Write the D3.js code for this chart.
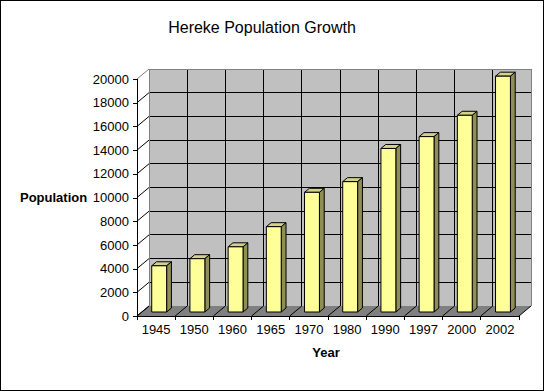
<!DOCTYPE html>
<html>
<head>
<meta charset="utf-8">
<script src="https://cdn.jsdelivr.net/npm/d3@7"></script>
<style>
  body { margin: 0; background: #fff; }
  svg { display: block; font-family: Arial, "Liberation Sans", sans-serif; }
</style>
</head>
<body>
<svg id="chart" width="546" height="392"></svg>
<script>
// Hereke population by census year
const years = ['1945', '1950', '1960', '1965', '1970', '1980', '1990', '1997', '2000', '2002']
const population = [3900, 4500, 5500, 7200, 10100, 11000, 13800, 14800, 16600, 19900]
const yTicks = [0, 2000, 4000, 6000, 8000, 10000, 12000, 14000, 16000, 18000, 20000]

const svg = d3.select('#chart')

// front plane of the 3d box
const x = d3.scaleBand().domain(years).range([137, 519])
const y = d3.scaleLinear().domain([0, 20000]).range([316, 79])

// depth of the box in pixels, bars sit between z0 and z1
const depthX = 12
const depthY = 10
const z0 = 0.4
const z1 = 0.8
const pt = (px, py, z) => [px + depthX * z, py - depthY * z]
const poly = pts => pts.map(p => p.join(',')).join(' ')

const x0 = x.range()[0]
const x1 = x.range()[1]
const bw = x.bandwidth()

// outer border
svg.append('rect')
  .attr('x', 0.5).attr('y', 0.5)
  .attr('width', 543).attr('height', 390)
  .attr('fill', '#fff').attr('stroke', '#000')

// back wall
svg.append('polygon')
  .attr('points', poly([pt(x0, y(20000), 1), pt(x1, y(20000), 1), pt(x1, y(0), 1), pt(x0, y(0), 1)]))
  .attr('fill', '#c0c0c0')

// floor
svg.append('polygon')
  .attr('points', poly([pt(x0, y(0), 0), pt(x0, y(0), 1), pt(x1, y(0), 1), pt(x1, y(0), 0)]))
  .attr('fill', '#808080')

const grid = svg.append('g').attr('stroke', '#000').attr('shape-rendering', 'crispEdges')

// horizontal gridlines on back wall + diagonals on left wall
yTicks.forEach(t => {
  const a = pt(x0, y(t), 1)
  const b = pt(x1, y(t), 1)
  if (t > 0 && t < 20000) {
    grid.append('line').attr('x1', a[0]).attr('y1', a[1]).attr('x2', b[0]).attr('y2', b[1])
  }
  svg.append('line')
    .attr('x1', x0).attr('y1', y(t)).attr('x2', a[0]).attr('y2', a[1])
    .attr('stroke', t === 20000 ? '#808080' : '#000')
})

// vertical gridlines on back wall + diagonals on floor
years.forEach((d, i) => {
  const xv = x(d)
  if (i > 0) {
    const a = pt(xv, y(0), 1)
    const b = pt(xv, y(20000), 1)
    grid.append('line').attr('x1', a[0]).attr('y1', a[1]).attr('x2', b[0]).attr('y2', b[1])
  }
  const f = pt(xv, y(0), 1)
  svg.append('line')
    .attr('x1', xv).attr('y1', y(0)).attr('x2', f[0]).attr('y2', f[1])
    .attr('stroke', '#000')
})
{
  const f = pt(x1, y(0), 1)
  svg.append('line').attr('x1', x1).attr('y1', y(0)).attr('x2', f[0]).attr('y2', f[1]).attr('stroke', '#000')
}

// wall edges in gray
const edges = svg.append('g').attr('stroke', '#808080').attr('fill', 'none').attr('shape-rendering', 'crispEdges')
edges.append('polyline')
  .attr('points', poly([pt(x0, y(0), 1), pt(x0, y(20000), 1), pt(x1, y(20000), 1), pt(x1, y(0), 1)]))

// bars
const barOff = bw * 0.26
const barW = bw * 0.39
const bars = svg.append('g').selectAll('g')
  .data(years.map((d, i) => ({ year: d, value: population[i] })))
  .join('g')
  .attr('stroke', '#000')
  .attr('stroke-linejoin', 'round')

bars.append('polygon') // top
  .attr('points', d => {
    const l = x(d.year) + barOff
    const r = l + barW
    const t = y(d.value)
    return poly([pt(l, t, z0), pt(l, t, z1), pt(r, t, z1), pt(r, t, z0)])
  })
  .attr('fill', '#d2d28a')

bars.append('polygon') // side
  .attr('points', d => {
    const r = x(d.year) + barOff + barW
    return poly([pt(r, y(d.value), z0), pt(r, y(d.value), z1), pt(r, y(0), z1), pt(r, y(0), z0)])
  })
  .attr('fill', '#8e8e55')

bars.append('polygon') // front
  .attr('points', d => {
    const l = x(d.year) + barOff
    const r = l + barW
    return poly([pt(l, y(d.value), z0), pt(r, y(d.value), z0), pt(r, y(0), z0), pt(l, y(0), z0)])
  })
  .attr('fill', '#ffff99')

// axes
const yAxis = d3.axisLeft(y).tickValues(yTicks).tickSize(4).tickPadding(4).tickFormat(d3.format('d'))
svg.append('g')
  .attr('transform', `translate(${x0},0)`)
  .call(yAxis)
  .call(g => g.selectAll('text').attr('font-size', 13).attr('font-family', 'Arial, "Liberation Sans", sans-serif'))
  .call(g => g.selectAll('path,line').attr('shape-rendering', 'crispEdges'))

const xAxis = d3.axisBottom(x).tickSize(0).tickPadding(9)
svg.append('g')
  .attr('transform', `translate(0,${y(0)})`)
  .call(xAxis)
  .call(g => g.select('.domain').attr('d', `M${x0},0.5H${x1}`).attr('shape-rendering', 'crispEdges'))
  .call(g => g.selectAll('text').attr('font-size', 13).attr('font-family', 'Arial, "Liberation Sans", sans-serif'))

// category tick marks on the x axis
svg.append('g').selectAll('line')
  .data(years.concat(['end']))
  .join('line')
  .attr('x1', d => d === 'end' ? x1 : x(d))
  .attr('x2', d => d === 'end' ? x1 : x(d))
  .attr('y1', y(0)).attr('y2', y(0) + 4)
  .attr('stroke', '#000')
  .attr('shape-rendering', 'crispEdges')

// titles
svg.append('text')
  .attr('x', 262).attr('y', 33)
  .attr('text-anchor', 'middle')
  .attr('font-size', 16)
  .text('Hereke Population Growth')

svg.append('text')
  .attr('x', 20).attr('y', 202)
  .attr('font-size', 13).attr('font-weight', 'bold')
  .text('Population')

svg.append('text')
  .attr('x', 326).attr('y', 357)
  .attr('text-anchor', 'middle')
  .attr('font-size', 13).attr('font-weight', 'bold')
  .text('Year')
</script>
</body>
</html>
